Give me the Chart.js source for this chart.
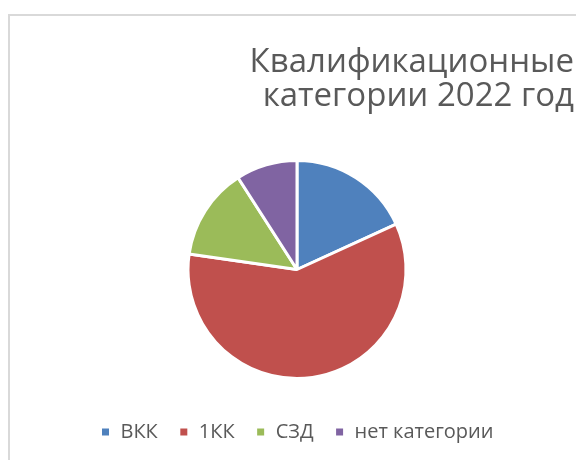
<!DOCTYPE html>
<html>
<head>
<meta charset="utf-8">
<script src="https://cdn.jsdelivr.net/npm/chart.js@4"></script>
<style>
  html, body { margin: 0; padding: 0; background: #fff; overflow: hidden; }
  #frame { position: absolute; left: 8px; top: 14px; width: 700px; height: 600px;
           border-left: 2px solid #d9d9d9; border-top: 2px solid #d9d9d9; }
  #wrap { position: absolute; left: 0; top: 0; width: 600px; height: 460px; }
</style>
</head>
<body>
<div id="frame"></div>
<div id="wrap"><canvas id="c"></canvas></div>
<script>
const titleLines = ["Квалификационные", "категории 2022 год"];
const categories = ["ВКК", "1КК", "СЗД", "нет категории"];
const values = [4, 13, 3, 2];
const colors = ["#4F81BD", "#C0504D", "#9BBB59", "#8064A2"];

new Chart(document.getElementById("c"), {
    type: 'pie',
    data: {
        labels: categories,
        datasets: [{
            data: values,
            backgroundColor: colors,
            borderColor: "#ffffff",
            borderWidth: 3,
            radius: 109
        }]
    },
    options: {
        responsive: true,
        maintainAspectRatio: false,
        animation: false,
        layout: { padding: { left: 20, right: 26, top: 0, bottom: 8 } },
        plugins: {
            tooltip: { enabled: false },
            title: {
                display: true,
                text: titleLines,
                align: 'end',
                color: "#595959",
                font: { family: "'Open Sans'", size: 33, weight: 'normal', lineHeight: 34 / 33 },
                padding: { top: 46, bottom: 24 }
            },
            legend: {
                position: 'bottom',
                labels: {
                    color: "#595959",
                    font: { family: "'Open Sans'", size: 20 },
                    boxWidth: 10,
                    boxHeight: 10,
                    padding: 21
                }
            }
        }
    }
});
</script>
</body>
</html>
